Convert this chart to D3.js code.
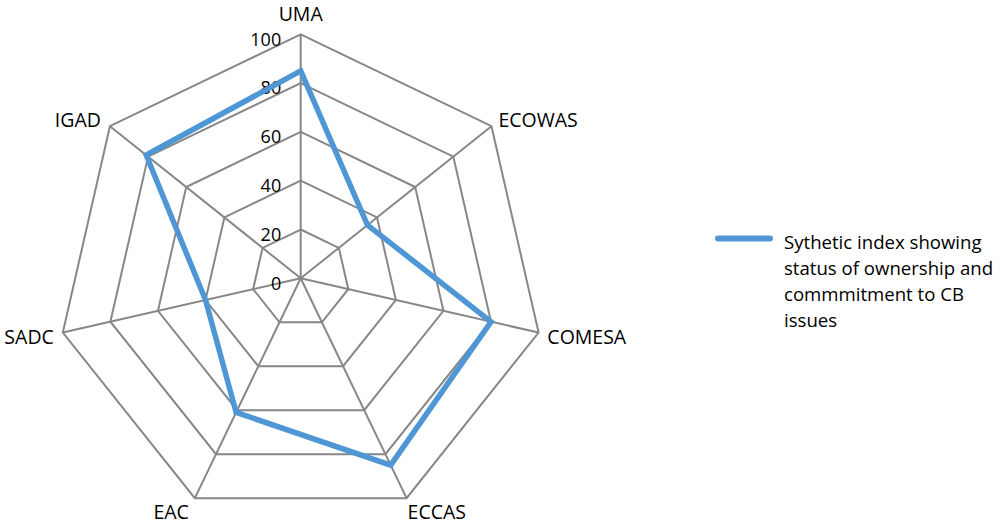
<!DOCTYPE html>
<html>
<head>
<meta charset="utf-8">
<script src="https://cdn.jsdelivr.net/npm/d3@7"></script>
<style>
  body { margin: 0; background: #fff; }
  text { font-family: "Open Sans", sans-serif; fill: #000; }
</style>
</head>
<body>
<div id="radar"></div>
<script>
// Chart data
var categories = ["UMA", "ECOWAS", "COMESA", "ECCAS", "EAC", "SADC", "IGAD"];
var indexValues = [85, 35, 80, 85, 61, 40, 81];
var tickValues = [0, 20, 40, 60, 80, 100];
var seriesName = ["Sythetic index showing", "status of ownership and", "commmitment to CB", "issues"];

// Set up SVG width and height
var svgWidth = 1008;
var svgHeight = 524;

// Centre and radius of the radar
var cx = 300.7;
var cy = 278.3;
var radius = 244;

var svg = d3.select("#radar")
	.append("svg")
	.attr("width", svgWidth)
	.attr("height", svgHeight);

var chartGroup = svg.append("g")
	.attr("transform", `translate(${cx}, ${cy})`);

// radial scale and angle for each category
var rScale = d3.scaleLinear()
	.domain([0, 100])
	.range([0, radius]);

var angle = d3.scalePoint()
	.domain(categories)
	.range([0, 2 * Math.PI * (categories.length - 1) / categories.length]);

function px(cat, v) { return rScale(v) * Math.sin(angle(cat)); }
function py(cat, v) { return -rScale(v) * Math.cos(angle(cat)); }

// grid rings
tickValues.slice(1).forEach(function(t) {
	chartGroup.append("polygon")
		.attr("points", categories.map(c => [px(c, t), py(c, t)].join(",")).join(" "))
		.attr("fill", "none")
		.attr("stroke", "#878787")
		.attr("stroke-width", 2);
});

// spokes
chartGroup.selectAll(".spoke")
	.data(categories)
	.enter()
	.append("line")
	.attr("class", "spoke")
	.attr("x1", 0)
	.attr("y1", 0)
	.attr("x2", d => px(d, 100))
	.attr("y2", d => py(d, 100))
	.attr("stroke", "#878787")
	.attr("stroke-width", 2);

// tick labels along the first axis
chartGroup.selectAll(".tick-label")
	.data(tickValues)
	.enter()
	.append("text")
	.attr("class", "tick-label")
	.attr("x", -19.5)
	.attr("y", d => -rScale(d) + 5)
	.attr("dy", "0.35em")
	.attr("text-anchor", "end")
	.style("font-size", "18px")
	.text(d => d);

// category labels
chartGroup.selectAll(".cat-label")
	.data(categories)
	.enter()
	.append("text")
	.attr("class", "cat-label")
	.attr("x", function(d) {
		var s = Math.sin(angle(d));
		var c = Math.cos(angle(d));
		var x = px(d, 100);
		if (Math.abs(s) < 0.1) return x;
		if (c < -0.8) return x + (s > 0 ? 1 : -6);
		return x + (s > 0 ? 9 * s : -9);
	})
	.attr("y", function(d) {
		var c = Math.cos(angle(d));
		var y = py(d, 100);
		if (c > 0.9) return y - 20;
		if (c < -0.8) return y + 14;
		return y + (c > 0 ? -6 : 4.5);
	})
	.attr("dy", "0.35em")
	.attr("text-anchor", function(d) {
		var s = Math.sin(angle(d));
		if (Math.abs(s) < 0.1) return "middle";
		return s > 0 ? "start" : "end";
	})
	.style("font-size", "19.5px")
	.text(d => d);

// data series
var line = d3.line()
	.x((d, i) => px(categories[i], d))
	.y((d, i) => py(categories[i], d))
	.curve(d3.curveLinearClosed);

chartGroup.append("path")
	.datum(indexValues)
	.attr("d", line)
	.attr("fill", "none")
	.attr("stroke", "#4f97d4")
	.attr("stroke-width", 5.5)
	.attr("stroke-linejoin", "miter");

// legend
var legend = svg.append("g")
	.attr("transform", "translate(716, 238.5)");

legend.append("line")
	.attr("x1", 2)
	.attr("x2", 54)
	.attr("y1", 0)
	.attr("y2", 0)
	.attr("stroke", "#4f97d4")
	.attr("stroke-width", 6)
	.attr("stroke-linecap", "round");

legend.selectAll("text")
	.data(seriesName)
	.enter()
	.append("text")
	.attr("x", 68)
	.attr("y", (d, i) => 10 + i * 26)
	.style("font-size", "18.6px")
	.text(d => d);
</script>
</body>
</html>
